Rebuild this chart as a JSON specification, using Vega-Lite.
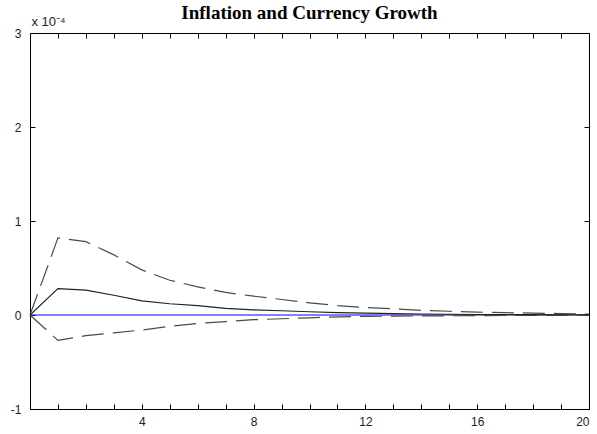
{
  "$schema": "https://vega.github.io/schema/vega-lite/v6.json",
  "width": 559,
  "height": 376,
  "autosize": "none",
  "padding": {"left": 30, "top": 33, "right": 9, "bottom": 25},
  "background": "white",
  "title": {"text": "Inflation and Currency Growth", "font": "Liberation Serif", "fontWeight": "bold", "fontSize": 19, "color": "#000", "offset": -8, "anchor": "middle"},
  "config": {
    "view": {"stroke": "#000", "strokeWidth": 1},
    "axis": {"grid": false, "domain": false, "tickSize": -5, "tickColor": "#000", "labelColor": "#222", "labelFont": "Liberation Sans", "labelFontSize": 12, "title": null}
  },
  "data": {"values": [
    {"h": 0, "mid": 0, "hi": 0, "lo": 0},
    {"h": 1, "mid": 0.28, "hi": 0.82, "lo": -0.27},
    {"h": 2, "mid": 0.265, "hi": 0.78, "lo": -0.22},
    {"h": 3, "mid": 0.21, "hi": 0.64, "lo": -0.19},
    {"h": 4, "mid": 0.15, "hi": 0.48, "lo": -0.16},
    {"h": 5, "mid": 0.12, "hi": 0.37, "lo": -0.12},
    {"h": 6, "mid": 0.1, "hi": 0.3, "lo": -0.09},
    {"h": 7, "mid": 0.07, "hi": 0.24, "lo": -0.07},
    {"h": 8, "mid": 0.055, "hi": 0.2, "lo": -0.05},
    {"h": 9, "mid": 0.045, "hi": 0.165, "lo": -0.04},
    {"h": 10, "mid": 0.035, "hi": 0.13, "lo": -0.03},
    {"h": 11, "mid": 0.025, "hi": 0.1, "lo": -0.02},
    {"h": 12, "mid": 0.02, "hi": 0.08, "lo": -0.015},
    {"h": 13, "mid": 0.015, "hi": 0.065, "lo": -0.012},
    {"h": 14, "mid": 0.01, "hi": 0.05, "lo": -0.01},
    {"h": 15, "mid": 0.008, "hi": 0.04, "lo": -0.008},
    {"h": 16, "mid": 0.006, "hi": 0.03, "lo": -0.006},
    {"h": 17, "mid": 0.005, "hi": 0.025, "lo": -0.005},
    {"h": 18, "mid": 0.004, "hi": 0.02, "lo": -0.004},
    {"h": 19, "mid": 0.003, "hi": 0.015, "lo": -0.003},
    {"h": 20, "mid": 0.002, "hi": 0.01, "lo": -0.002}
  ]},
  "layer": [
    {
      "mark": {"type": "line", "color": "#0000ff", "strokeWidth": 1},
      "encoding": {
        "x": {"field": "h", "type": "quantitative", "scale": {"domain": [0, 20], "nice": false, "zero": false},
              "axis": {"orient": "top", "values": [1,2,3,4,5,6,7,8,9,10,11,12,13,14,15,16,17,18,19], "labels": false}},
        "y": {"datum": 0, "type": "quantitative", "scale": {"domain": [-1, 3], "nice": false},
              "axis": {"orient": "right", "values": [-1, 0, 1, 2, 3], "labels": false}}
      }
    },
    {
      "mark": {"type": "line", "color": "#4a4a4a", "strokeWidth": 1.2, "strokeDash": [22, 9]},
      "encoding": {
        "x": {"field": "h", "type": "quantitative",
              "axis": {"orient": "bottom", "values": [0,1,2,3,4,5,6,7,8,9,10,11,12,13,14,15,16,17,18,19,20], "labelExpr": "datum.value % 4 == 0 && datum.value > 0 ? datum.label : ''", "labelPadding": 12}},
        "y": {"field": "hi", "type": "quantitative",
              "axis": {"orient": "left", "values": [-1, 0, 1, 2, 3], "labelExpr": "datum.value < 0 ? '-' + abs(datum.value) : datum.label", "labelPadding": 14, "title": "x 10⁻⁴", "titleAngle": 0, "titleAlign": "left", "titleBaseline": "bottom", "titleX": 1, "titleY": -5, "titleFont": "Liberation Sans", "titleFontSize": 13, "titleFontWeight": "normal", "titleColor": "#222"}}
      }
    },
    {
      "mark": {"type": "line", "color": "#4a4a4a", "strokeWidth": 1.2, "strokeDash": [22, 9]},
      "encoding": {
        "x": {"field": "h", "type": "quantitative", "axis": null},
        "y": {"field": "lo", "type": "quantitative", "axis": null}
      }
    },
    {
      "mark": {"type": "line", "color": "#222", "strokeWidth": 1.1},
      "encoding": {
        "x": {"field": "h", "type": "quantitative", "axis": null},
        "y": {"field": "mid", "type": "quantitative", "axis": null}
      }
    }
  ],
  "resolve": {"axis": {"x": "independent", "y": "independent"}}
}
